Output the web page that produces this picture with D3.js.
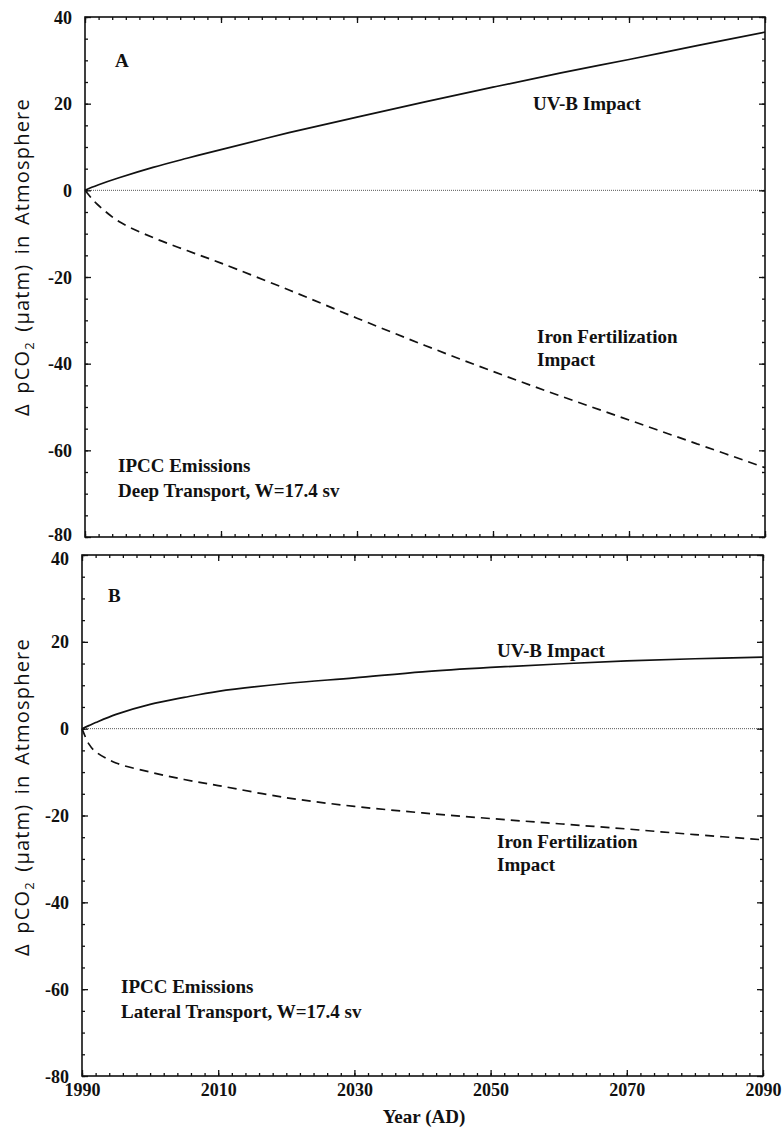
<!DOCTYPE html>
<html lang="en">
<head>
<meta charset="utf-8">
<title>UV-B and iron fertilization impact on pCO2</title>
<script src="https://d3js.org/d3.v7.min.js"></script>
<style>
  body { margin: 0; background: #fff; }
  .lbl { font-family: "Liberation Serif", "Times New Roman", serif; font-weight: bold; font-size: 19px; fill: #111; }
  .tick-lbl { font-family: "Liberation Serif", "Times New Roman", serif; font-weight: bold; font-size: 18px; fill: #111; }
  .ytitle { font-family: "Open Sans", sans-serif; font-size: 20px; letter-spacing: 1.2px; word-spacing: 3px; fill: #111; }
</style>
</head>
<body>
<script>
var w = 782, h = 1130;

// data
var years = [1990, 1991, 1992, 1995, 2000, 2005, 2010, 2020, 2030, 2040, 2050, 2060, 2070, 2080, 2090];
var uvbA  = [0, 0.7, 1.3, 2.9, 5.3, 7.4, 9.4, 13.3, 16.9, 20.4, 23.8, 27.1, 30.2, 33.4, 36.5];
var ironA = [0, -1.9, -3.5, -7.2, -10.9, -13.9, -16.8, -23.0, -29.5, -35.8, -41.8, -47.5, -53.0, -58.5, -64.0];
var uvbB  = [0, 0.7, 1.4, 3.3, 5.6, 7.2, 8.6, 10.4, 11.7, 13.1, 14.1, 14.9, 15.6, 16.1, 16.5];
var ironB = [0, -3.5, -5.3, -7.9, -10.0, -11.7, -13.1, -15.9, -17.9, -19.4, -20.7, -21.9, -23.1, -24.4, -25.6];

var yTicks = [40, 20, 0, -20, -40, -60, -80];
var xTicks = [1990, 2010, 2030, 2050, 2070, 2090];
var yMinor = d3.range(-80, 41, 5);
var xMinor = d3.range(1990, 2091, 2);

var panels = [
  { letter: "A", uvb: uvbA, iron: ironA, transport: "Deep Transport, W=17.4 sv",
    left: 85, right: 765, top: 17, bottom: 537, xLabels: false,
    letterPos: [115, 67], uvbPos: [533, 110], ironPos: [537, 343], notePos: [118, 472], titleMid: 257 },
  { letter: "B", uvb: uvbB, iron: ironB, transport: "Lateral Transport, W=17.4 sv",
    left: 82, right: 763, top: 555, bottom: 1076, xLabels: true,
    letterPos: [108, 602], uvbPos: [497, 657], ironPos: [497, 848], notePos: [121, 993], titleMid: 797 }
];

var svg = d3.select("body").append("svg")
  .attr("width", w)
  .attr("height", h);

panels.forEach(function(p, pi) {
  var x = d3.scaleLinear().domain([1990, 2090]).range([p.left, p.right]);
  var y = d3.scaleLinear().domain([-80, 40]).range([p.bottom, p.top]);
  var g = svg.append("g");

  // zero line
  g.append("line")
    .attr("x1", x(1990)).attr("x2", x(2090))
    .attr("y1", y(0)).attr("y2", y(0))
    .attr("stroke", "#444").attr("stroke-width", 0.9)
    .attr("stroke-dasharray", "1,1");

  // inward ticks on all four sides
  function ticks(axis, transform, vals, size) {
    g.append("g")
      .attr("transform", transform)
      .call(axis.tickValues(vals).tickSize(-size).tickFormat(""))
      .call(function(s) {
        s.select(".domain").remove();
        s.selectAll("line").attr("stroke", "#111").attr("stroke-width", 1.3);
      });
  }
  ticks(d3.axisLeft(y), "translate(" + p.left + ",0)", yMinor, 3);
  ticks(d3.axisLeft(y), "translate(" + p.left + ",0)", yTicks, 6);
  ticks(d3.axisRight(y), "translate(" + p.right + ",0)", yMinor, 3);
  ticks(d3.axisRight(y), "translate(" + p.right + ",0)", yTicks, 6);
  ticks(d3.axisBottom(x), "translate(0," + p.bottom + ")", xMinor, 3);
  ticks(d3.axisBottom(x), "translate(0," + p.bottom + ")", xTicks, 6);
  ticks(d3.axisTop(x), "translate(0," + p.top + ")", xMinor, 3);
  ticks(d3.axisTop(x), "translate(0," + p.top + ")", xTicks, 6);

  // frame
  g.append("rect")
    .attr("x", p.left).attr("y", p.top)
    .attr("width", p.right - p.left).attr("height", p.bottom - p.top)
    .attr("fill", "none").attr("stroke", "#111").attr("stroke-width", 1.6);

  // y tick labels (plain hyphen minus like the original)
  g.append("g")
    .attr("transform", "translate(" + p.left + ",0)")
    .call(d3.axisLeft(y).tickValues(yTicks).tickSize(0).tickPadding(13)
      .tickFormat(function(d) { return String(d); }))
    .attr("font-family", null).attr("font-size", null)
    .call(function(s) {
      s.select(".domain").remove();
      s.selectAll("text").attr("class", "tick-lbl").attr("fill", "#111")
        .attr("dy", function(d) {
          // the -80 of panel A and the 40 of panel B sit nearly on top of each other
          if (pi === 0 && d === -80) return "0.2em";
          if (pi === 1 && d === 40) return "0.5em";
          return "0.34em";
        });
    });

  if (p.xLabels) {
    g.append("g")
      .attr("transform", "translate(0," + p.bottom + ")")
      .call(d3.axisBottom(x).tickValues(xTicks).tickSize(0).tickPadding(7).tickFormat(d3.format("d")))
      .attr("font-family", null).attr("font-size", null)
      .call(function(s) {
        s.select(".domain").remove();
        s.selectAll("text").attr("class", "tick-lbl").attr("fill", "#111");
      });
  }

  // curves
  var line = d3.line()
    .x(function(d, i) { return x(years[i]); })
    .y(function(d) { return y(d); })
    .curve(d3.curveCatmullRom.alpha(0.5));

  g.append("path")
    .attr("d", line(p.uvb))
    .attr("fill", "none").attr("stroke", "#111").attr("stroke-width", 1.7);

  g.append("path")
    .attr("d", line(p.iron))
    .attr("fill", "none").attr("stroke", "#111").attr("stroke-width", 1.7)
    .attr("stroke-dasharray", "9,6");

  // annotations
  function label(txt, pos, dy) {
    g.append("text").attr("class", "lbl")
      .attr("x", pos[0]).attr("y", pos[1] + (dy || 0))
      .text(txt);
  }
  label(p.letter, p.letterPos);
  label("UV-B Impact", p.uvbPos);
  label("Iron Fertilization", p.ironPos);
  label("Impact", p.ironPos, 23);
  label("IPCC Emissions", p.notePos);
  label(p.transport, p.notePos, 25);

  // y title
  var t = g.append("text")
    .attr("class", "ytitle")
    .attr("text-anchor", "middle")
    .attr("transform", "translate(29," + p.titleMid + ") rotate(-90)");
  t.append("tspan").text("\u0394 pCO");
  t.append("tspan").attr("dy", 5).attr("font-size", 13).text("2");
  t.append("tspan").attr("dy", -5).text(" (\u00b5atm) in Atmosphere");
});

svg.append("text")
  .attr("class", "lbl")
  .attr("x", 424).attr("y", 1123)
  .attr("text-anchor", "middle")
  .text("Year (AD)");
</script>
</body>
</html>
